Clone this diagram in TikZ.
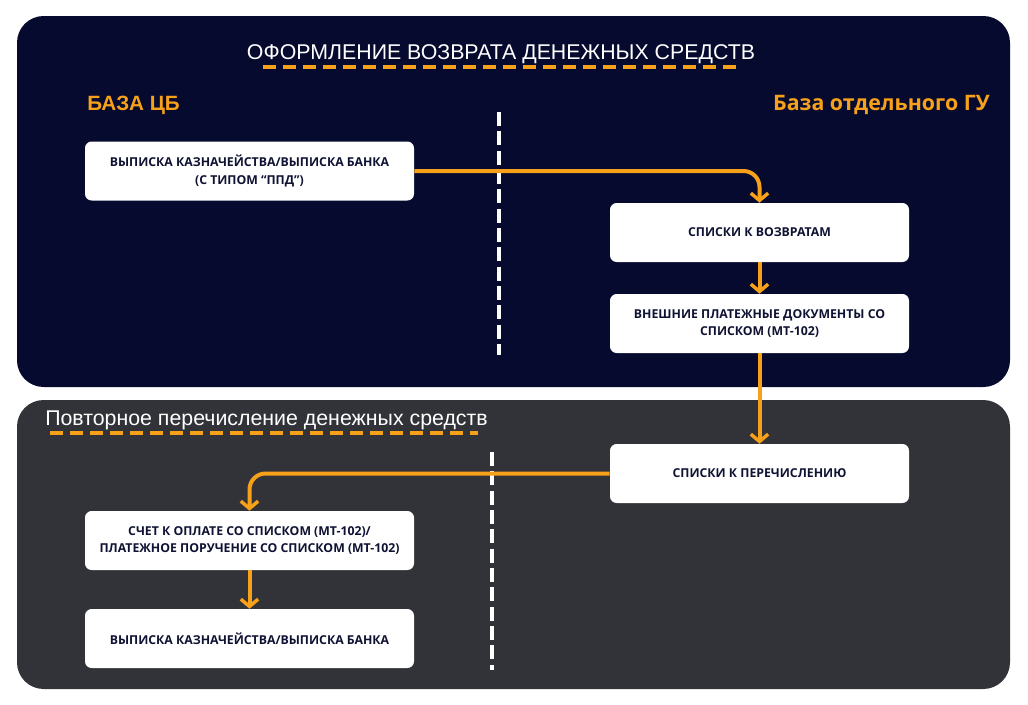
\documentclass[tikz,border=0pt]{standalone}
\usepackage{fontspec}
\setmainfont{Liberation Sans}
\newfontfamily\boxfont{Open Sans}
\usetikzlibrary{arrows.meta}
\definecolor{navy}{HTML}{050A2E}
\definecolor{graypanel}{HTML}{323338}
\definecolor{orng}{HTML}{F7A11A}
\definecolor{boxtext}{HTML}{0F1233}
\tikzset{
  panel/.style={rounded corners=20, draw=none},
  stepbox/.style={fill=white, rounded corners=5, minimum width=329*0.75pt, minimum height=59*0.75pt, align=center, font=\boxfont\bfseries\fontsize{9.2}{12.8}\selectfont, text=boxtext, inner sep=0pt},
  rbox/.style={stepbox, minimum width=299*0.75pt},
  flow/.style={draw=orng, line width=3pt, -{Straight Barb[length=5.5pt,width=13pt,line width=2.6pt]}, rounded corners=12},
  divider/.style={draw=white, line width=2.8pt, dash pattern=on 10.5pt off 4pt},
  uline/.style={draw=orng, line width=3pt, dash pattern=on 10pt off 5pt},
  titletext/.style={text=white, font=\fontsize{16}{18}\selectfont, inner sep=0pt},
  basetext/.style={text=orng, inner sep=0pt}
}
\begin{document}
\begin{tikzpicture}[x=0.75pt,y=-0.75pt]
\useasboundingbox (0,0) rectangle (1028,704);
\fill[white] (0,0) rectangle (1028,704);
\fill[navy, panel] (17,16) rectangle (1010,387);
\fill[graypanel, panel] (17,400) rectangle (1010,689);

\node[titletext, anchor=base] (t1) at (501,59) {ОФОРМЛЕНИЕ ВОЗВРАТА ДЕНЕЖНЫХ СРЕДСТВ};
\coordinate (u1a) at (263,67);
\coordinate (u1b) at (740,67);
\draw[uline] (u1a) -- (u1b);

\node[basetext, anchor=base west, font=\bfseries\fontsize{15.5}{17}\selectfont] (l1) at (87,110) {БАЗА ЦБ};
\node[basetext, anchor=base east, font=\boxfont\bfseries\fontsize{16}{18}\selectfont] (l2) at (990,110) {База отдельного ГУ};

\coordinate (d1a) at (499,112);
\coordinate (d1b) at (499,355);
\draw[divider] (d1a) -- (d1b);

\node[titletext, anchor=base west] (t2) at (45,425) {Повторное перечисление денежных средств};
\coordinate (u2a) at (50,433);
\coordinate (u2b) at (478,433);
\draw[uline] (u2a) -- (u2b);

\coordinate (d2a) at (492,452);
\coordinate (d2b) at (492,670);
\draw[divider] (d2a) -- (d2b);

\node[stepbox] (b1) at (249.5,171) {ВЫПИСКА КАЗНАЧЕЙСТВА/ВЫПИСКА БАНКА\\(С ТИПОМ “ППД”)};
\node[rbox] (b2) at (759.5,232.5) {СПИСКИ К ВОЗВРАТАМ};
\node[rbox] (b3) at (759.5,323.5) {ВНЕШНИЕ ПЛАТЕЖНЫЕ ДОКУМЕНТЫ СО\\СПИСКОМ (МТ-102)};
\node[rbox] (b4) at (759.5,473.5) {СПИСКИ К ПЕРЕЧИСЛЕНИЮ};
\node[stepbox] (b5) at (249.5,540.5) {СЧЕТ К ОПЛАТЕ СО СПИСКОМ (МТ-102)/\\ПЛАТЕЖНОЕ ПОРУЧЕНИЕ СО СПИСКОМ (МТ-102)};
\node[stepbox] (b6) at (249.5,638.5) {ВЫПИСКА КАЗНАЧЕЙСТВА/ВЫПИСКА БАНКА};

\draw[flow] (b1.east) -| (b2.north);
\draw[flow] (b2.south) -- (b3.north);
\draw[flow] (b3.south) -- (b4.north);
\draw[flow] (b4.west) -| (b5.north);
\draw[flow] (b5.south) -- (b6.north);
\end{tikzpicture}
\end{document}
